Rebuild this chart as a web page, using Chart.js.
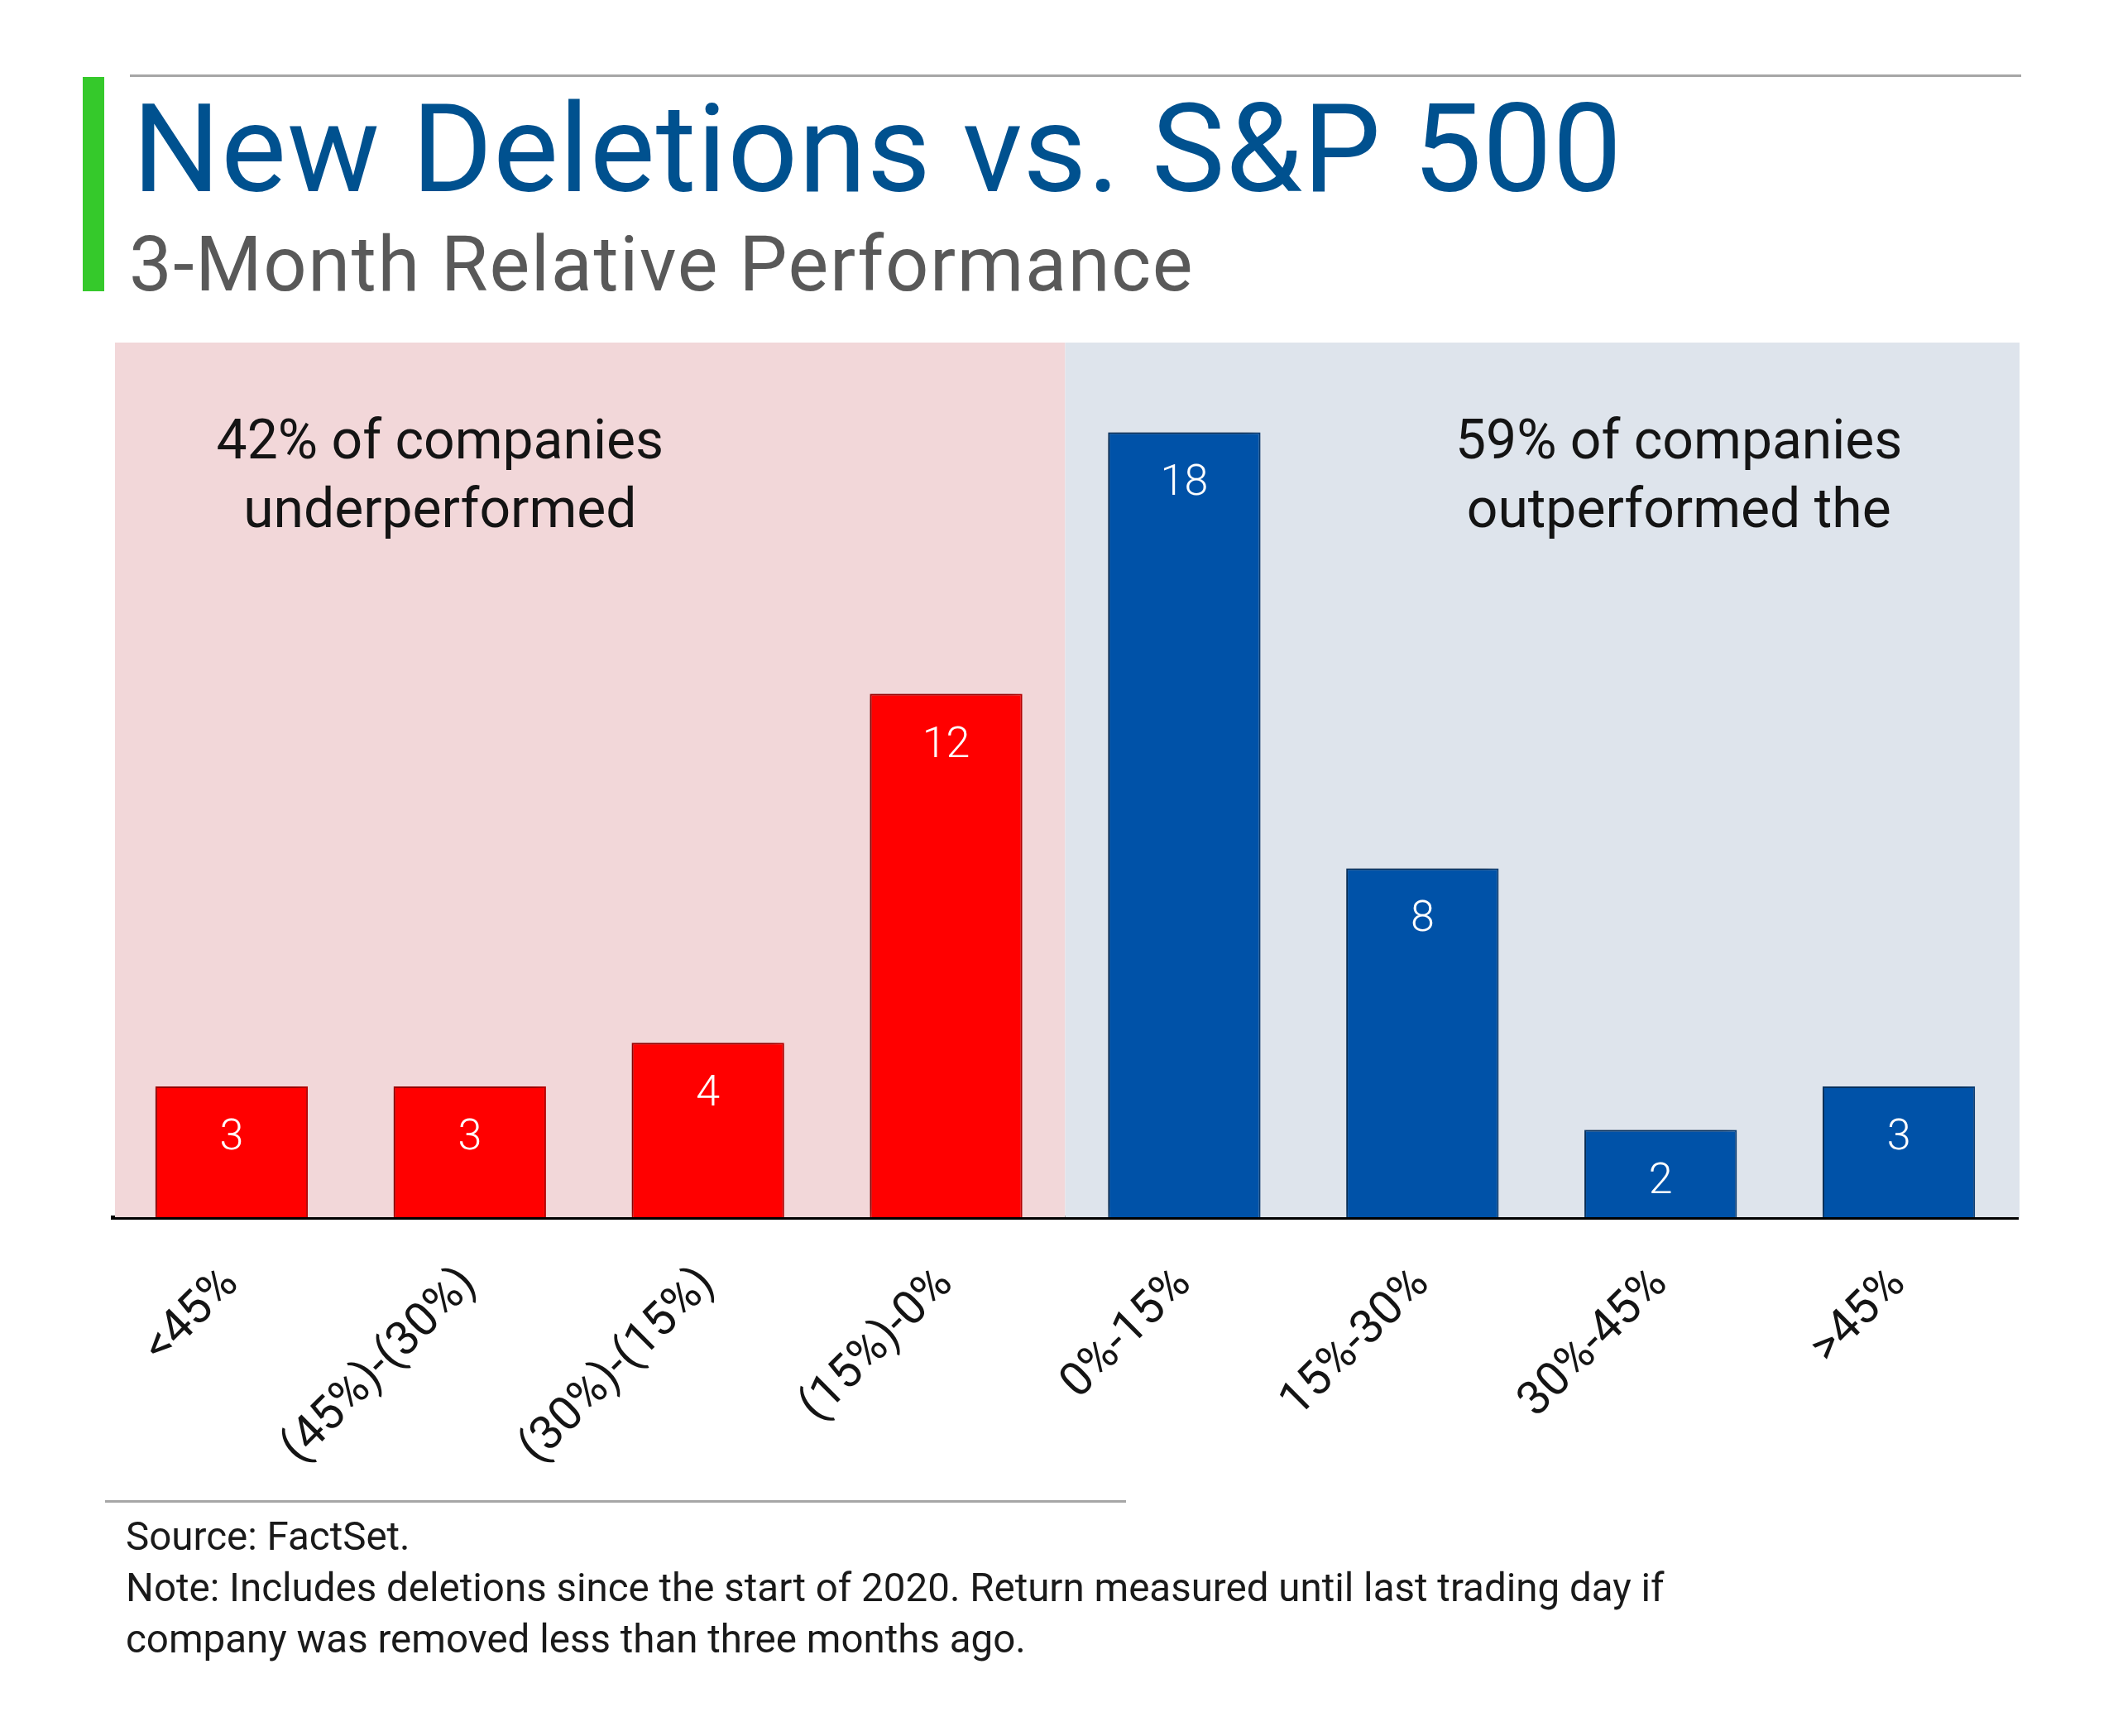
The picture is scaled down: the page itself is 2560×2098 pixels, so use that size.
<!DOCTYPE html>
<html>
<head>
<meta charset="utf-8">
<script src="https://cdn.jsdelivr.net/npm/chart.js@4.4.1/dist/chart.umd.min.js"></script>
<style>
  html, body { margin:0; padding:0; background:#ffffff; }
  #wrap { position:relative; width:2560px; height:2098px; overflow:hidden; background:#fff; }
  #c { position:absolute; left:0; top:0; }
  .abs { position:absolute; white-space:nowrap; font-family: Roboto, "Open Sans", sans-serif; }
  #topline { position:absolute; left:157px; top:90px; width:2286px; height:3px; background:#a6a6a6; }
  #greenbar { position:absolute; left:100px; top:93px; width:26px; height:259px; background:#35c92b; }
  #title { left:160px; top:106px; font-size:149px; letter-spacing:0.8px; line-height:1; color:#00518f; }
  #subtitle { left:156px; top:274px; font-size:92px; letter-spacing:1.6px; line-height:1; color:#595959; }
  #botline { position:absolute; left:127px; top:1813px; width:1234px; height:3px; background:#a6a6a6; }
  #notes { left:152px; top:1826px; font-size:47.5px; line-height:62px; color:#1a1a1a; }
</style>
</head>
<body>
<div id="wrap">
  <canvas id="c" width="2560" height="2098"></canvas>
  <div id="topline"></div>
  <div id="greenbar"></div>
  <div id="title" class="abs">New Deletions vs. S&amp;P 500</div>
  <div id="subtitle" class="abs">3-Month Relative Performance</div>
  <div id="botline"></div>
  <div id="notes" class="abs">Source: FactSet.<br>Note: Includes deletions since the start of 2020. Return measured until last trading day if<br>company was removed less than three months ago.</div>
</div>
<script>
// ---- data ----
const categories = ['<45%', '(45%)-(30%)', '(30%)-(15%)', '(15%)-0%', '0%-15%', '15%-30%', '30%-45%', '>45%'];
const counts = [3, 3, 4, 12, 18, 8, 2, 3];
const underCount = 4; // first four categories are underperformers
const noteLeft = ['42% of companies', 'underperformed'];
const noteRight = ['59% of companies', 'outperformed the'];

const RED = '#ff0000', RED_EDGE = '#c00000';
const BLUE = '#0052a8', BLUE_EDGE = '#0a3f78';
const PINK_BG = '#f2d7d9', BLUE_BG = '#dee4ec';
const FONT = 'Roboto, "Open Sans", sans-serif';

const fillColors = categories.map((_, i) => i < underCount ? RED : BLUE);
const edgeColors = categories.map((_, i) => i < underCount ? RED_EDGE : BLUE_EDGE);

const panelsPlugin = {
  id: 'panels',
  beforeDatasetsDraw(chart) {
    const {ctx, chartArea, scales: {x}} = chart;
    const split = (x.getPixelForValue(underCount - 1) + x.getPixelForValue(underCount)) / 2;
    ctx.save();
    ctx.fillStyle = PINK_BG;
    ctx.fillRect(chartArea.left + 3, chartArea.top - 3, split - chartArea.left - 3, chartArea.bottom - chartArea.top + 3);
    ctx.fillStyle = BLUE_BG;
    ctx.fillRect(split, chartArea.top - 3, chartArea.right - split + 2, chartArea.bottom - chartArea.top + 3);
    // annotation text
    ctx.fillStyle = '#141414';
    ctx.font = '400 66px ' + FONT;
    ctx.textAlign = 'center';
    ctx.textBaseline = 'alphabetic';
    const lx = (x.getPixelForValue(0) + x.getPixelForValue(2)) / 2 - 36;
    const rx = (x.getPixelForValue(5) + x.getPixelForValue(7)) / 2 + 22;
    noteLeft.forEach((t, i) => ctx.fillText(t, lx, 554 + i * 83));
    noteRight.forEach((t, i) => ctx.fillText(t, rx, 554 + i * 83));
    ctx.restore();
  }
};

const shadowPlugin = {
  id: 'barShadow',
  beforeDatasetDraw(chart) {
    const ctx = chart.ctx;
    ctx.save();
    ctx.shadowColor = 'rgba(0,0,0,0.4)';
    ctx.shadowBlur = 14;
    ctx.shadowOffsetX = -6;
    ctx.shadowOffsetY = -2;
  },
  afterDatasetDraw(chart) {
    chart.ctx.restore();
  }
};

const labelPlugin = {
  id: 'valueLabels',
  afterDatasetsDraw(chart) {
    const {ctx} = chart;
    const meta = chart.getDatasetMeta(0);
    ctx.save();
    ctx.fillStyle = '#ffffff';
    ctx.font = '300 52px ' + FONT;
    ctx.textAlign = 'center';
    ctx.textBaseline = 'middle';
    meta.data.forEach((bar, i) => {
      ctx.fillText(String(counts[i]), bar.x, bar.y + 63);
    });
    ctx.restore();
  }
};

const XAXIS_H = 300;
new Chart(document.getElementById('c'), {
  type: 'bar',
  data: {
    labels: categories,
    datasets: [{
      data: counts,
      backgroundColor: fillColors,
      borderColor: edgeColors,
      borderWidth: 2,
      borderSkipped: 'bottom',
      barPercentage: 0.8,
      categoryPercentage: 0.8
    }]
  },
  options: {
    responsive: false,
    animation: false,
    devicePixelRatio: 1,
    layout: { padding: { left: 136, right: 121, top: 417, bottom: 2098 - 1471 - XAXIS_H } },
    plugins: { legend: { display: false }, tooltip: { enabled: false }, title: { display: false } },
    scales: {
      x: {
        z: 1,
        grid: { display: false, drawTicks: false },
        border: { display: true, color: '#000000', width: 5 },
        ticks: {
          minRotation: 45, maxRotation: 45, autoSkip: false,
          padding: 48,
          color: '#141414',
          font: { family: FONT, size: 57, weight: '400' }
        },
        afterFit(scale) { scale.height = XAXIS_H; }
      },
      y: {
        display: false,
        min: 0, max: 20,
        afterFit(scale) { scale.width = 0; }
      }
    }
  },
  plugins: [panelsPlugin, shadowPlugin, labelPlugin]
});
</script>
</body>
</html>
